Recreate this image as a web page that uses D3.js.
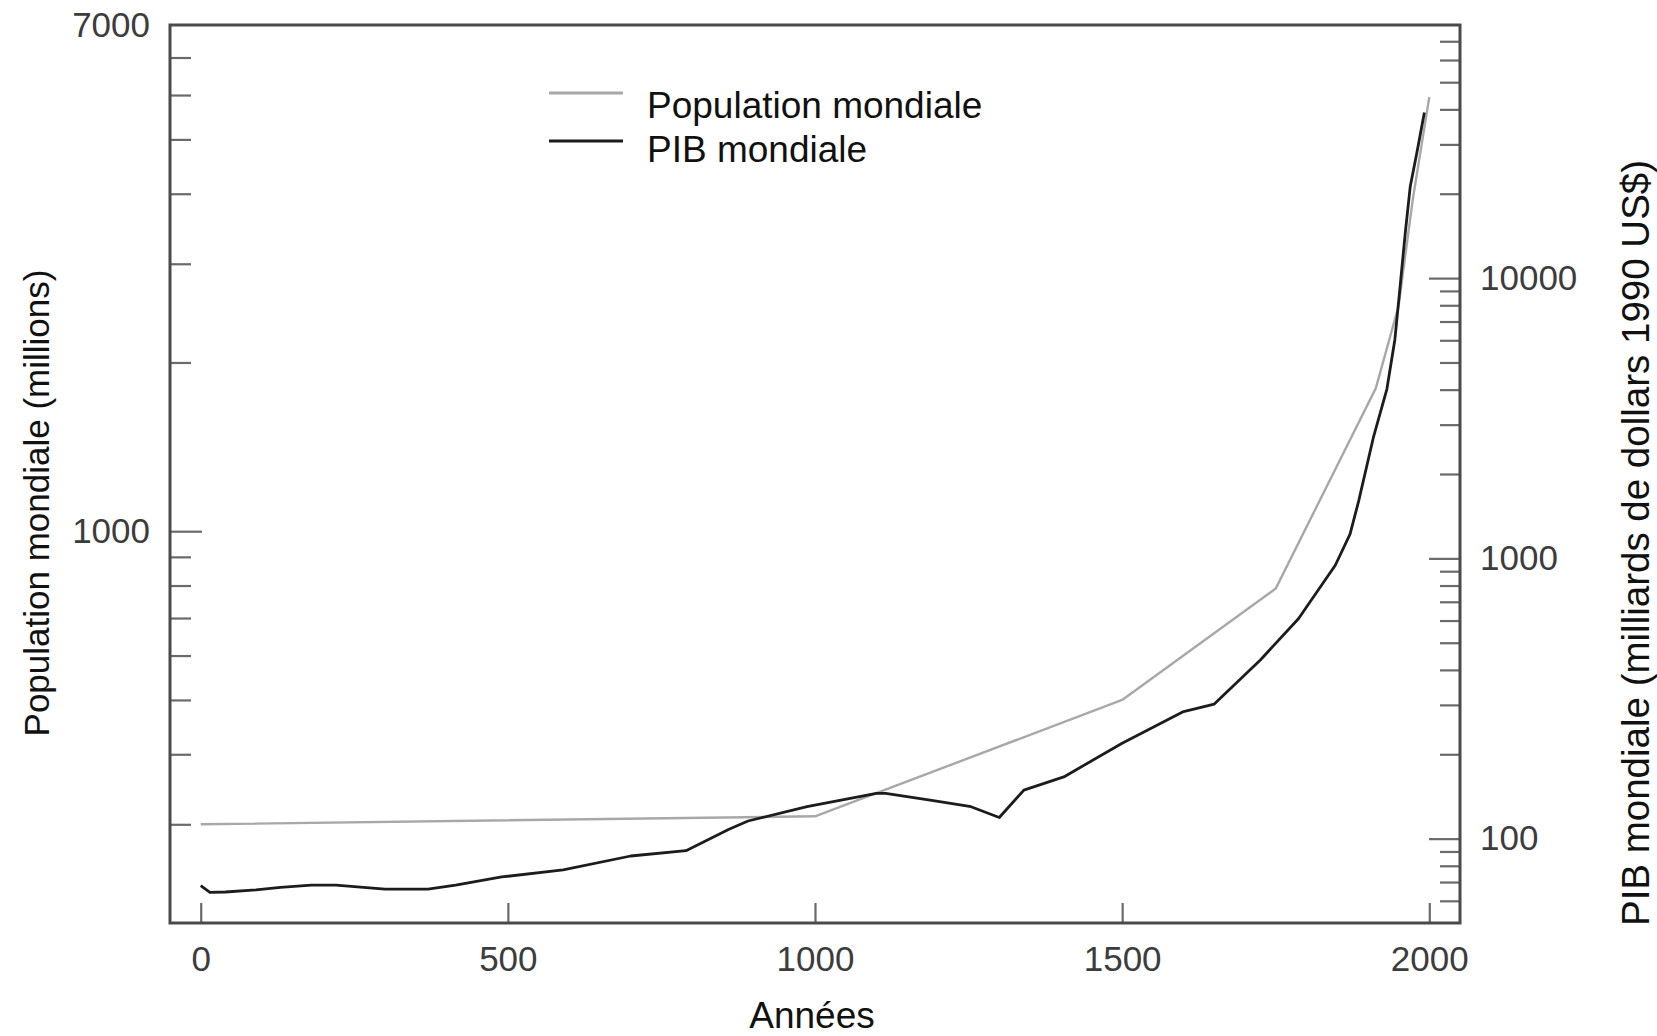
<!DOCTYPE html>
<html>
<head>
<meta charset="utf-8">
<script src="https://cdn.jsdelivr.net/npm/d3@7"></script>
<style>
  html, body { margin: 0; padding: 0; background: #ffffff; }
  svg { display: block; }
  text { font-family: "Liberation Sans", Arial, Helvetica, sans-serif; }
</style>
</head>
<body>
<svg id="chart" width="1657" height="1036"></svg>
<script>
// ---------------- DATA ----------------
const popYears  = [0, 1000, 1500, 1750, 1913, 1950, 1973, 2000];
const popValues = [300, 310, 500, 790, 1800, 2520, 3900, 5950];   // millions

const gdpYears  = [0, 15, 40, 90, 130, 180, 220, 300, 370, 415, 490, 590, 700, 790, 860, 891, 987,
                   1100, 1115, 1190, 1254, 1300, 1340, 1405, 1500, 1600, 1650, 1725, 1787, 1847,
                   1871, 1885, 1909, 1931, 1944, 1952, 1961, 1969, 1980, 1992];
const gdpValues = [68, 64.3, 64.5, 65.6, 67, 68.3, 68.3, 66, 66, 68.3, 73, 77.3, 86.7, 90.6, 108, 115.6, 130,
                   145, 145, 137, 130, 119, 149, 166, 219, 284, 302, 434, 609, 945,
                   1220, 1600, 2700, 4018, 6040, 9100, 14570, 21230, 28200, 39000];  // milliards 1990 US$

const xTickValues      = [0, 500, 1000, 1500, 2000];
const leftMinorTicks   = [300, 400, 500, 600, 700, 800, 900, 2000, 3000, 4000, 5000, 6000, 7000];
const leftMajorTicks   = [1000];
const leftLabelValues  = [8000, 1000];
const leftLabelTexts   = ["7000", "1000"];
const rightMinorTicks  = [60, 70, 80, 90, 200, 300, 400, 500, 600, 700, 800, 900,
                          2000, 3000, 4000, 5000, 6000, 7000, 8000, 9000,
                          20000, 30000, 40000, 50000, 60000, 70000];
const rightMajorTicks  = [100, 1000, 10000];
const rightLabelValues = [100, 1000, 10000];

const legendLabels = ["Population mondiale", "PIB mondiale"];
const xTitle = "Années";
const yLeftTitle = "Population mondiale (millions)";
const yRightTitle = "PIB mondiale (milliards de dollars 1990 US$)";

// ---------------- LAYOUT ----------------
const L = 170, R = 1460, T = 25, B = 923;
const svg = d3.select("#chart");

const x = d3.scaleLinear().domain([-50, 2050]).range([L, R]);
const yL = d3.scaleLog().domain([200, 8000]).range([B, T]);
const yR = d3.scaleLog().domain([50, 80000]).range([B, T]);

const frameColor = "#4a4a4a";
const tickColor = "#6a6a6a";
const labelColor = "#3c3c3c";
const tickFont = 35;

function styleAxis(g) {
  g.select(".domain").remove();
  g.selectAll(".tick line").attr("stroke", tickColor).attr("stroke-width", 2.2);
  g.selectAll(".tick text").attr("fill", labelColor).style("font-size", tickFont + "px")
    .style("font-family", '"Liberation Sans", Arial, Helvetica, sans-serif');
}

// Left axis ticks (inward)
svg.append("g").attr("transform", `translate(${L},0)`)
  .call(d3.axisRight(yL).tickValues(leftMinorTicks).tickSize(21).tickFormat(""))
  .call(styleAxis);
svg.append("g").attr("transform", `translate(${L},0)`)
  .call(d3.axisRight(yL).tickValues(leftMajorTicks).tickSize(32).tickFormat(""))
  .call(styleAxis);
svg.append("g").attr("transform", `translate(${L},0)`)
  .call(d3.axisLeft(yL).tickValues(leftLabelValues).tickSize(0).tickPadding(20)
        .tickFormat((d, i) => leftLabelTexts[i]))
  .call(styleAxis);

// Right axis ticks (inward)
svg.append("g").attr("transform", `translate(${R},0)`)
  .call(d3.axisLeft(yR).tickValues(rightMinorTicks).tickSize(20).tickFormat(""))
  .call(styleAxis);
svg.append("g").attr("transform", `translate(${R},0)`)
  .call(d3.axisLeft(yR).tickValues(rightMajorTicks).tickSize(31).tickFormat(""))
  .call(styleAxis);
svg.append("g").attr("transform", `translate(${R},0)`)
  .call(d3.axisRight(yR).tickValues(rightLabelValues).tickSize(0).tickPadding(20)
        .tickFormat(d3.format("d")))
  .call(styleAxis);

// Bottom axis
svg.append("g").attr("transform", `translate(0,${B})`)
  .call(d3.axisTop(x).tickValues(xTickValues).tickSize(20).tickFormat(""))
  .call(styleAxis);
svg.append("g").attr("transform", `translate(0,${B})`)
  .call(d3.axisBottom(x).tickValues(xTickValues).tickSize(0).tickPadding(23)
        .tickFormat(d3.format("d")))
  .call(styleAxis);

// Lines
const popData = popYears.map((yr, i) => ({ x: yr, v: popValues[i] }));
const gdpData = gdpYears.map((yr, i) => ({ x: yr, v: gdpValues[i] }));

svg.append("path").datum(popData)
  .attr("fill", "none").attr("stroke", "#a8a8a8").attr("stroke-width", 2.4)
  .attr("stroke-linejoin", "round")
  .attr("d", d3.line().x(d => x(d.x)).y(d => yL(d.v)));

svg.append("path").datum(gdpData)
  .attr("fill", "none").attr("stroke", "#1c1c1c").attr("stroke-width", 2.8)
  .attr("stroke-linejoin", "round")
  .attr("d", d3.line().x(d => x(d.x)).y(d => yR(d.v)));

// Frame
svg.append("rect").attr("x", L).attr("y", T).attr("width", R - L).attr("height", B - T)
  .attr("fill", "none").attr("stroke", frameColor).attr("stroke-width", 3);

// Legend
const legendColors = ["#a8a8a8", "#1c1c1c"];
const legendLineY = [93, 141];
const legendTextY = [118, 162];
legendLabels.forEach((lab, i) => {
  svg.append("line").attr("x1", 549).attr("x2", 623)
    .attr("y1", legendLineY[i]).attr("y2", legendLineY[i])
    .attr("stroke", legendColors[i]).attr("stroke-width", 3);
  svg.append("text").attr("x", 647).attr("y", legendTextY[i])
    .attr("fill", "#111").style("font-size", "37px").text(lab);
});

// Titles
svg.append("text").attr("x", (L + R) / 2 - 3).attr("y", 1028)
  .attr("text-anchor", "middle").attr("fill", "#111")
  .style("font-size", "37px").text(xTitle);

svg.append("text").attr("transform", "translate(49,503) rotate(-90)")
  .attr("text-anchor", "middle").attr("fill", "#111")
  .style("font-size", "35px").text(yLeftTitle);

svg.append("text").attr("transform", "translate(1649,543) rotate(-90)")
  .attr("text-anchor", "middle").attr("fill", "#111")
  .style("font-size", "38.5px").text(yRightTitle);
</script>
</body>
</html>
